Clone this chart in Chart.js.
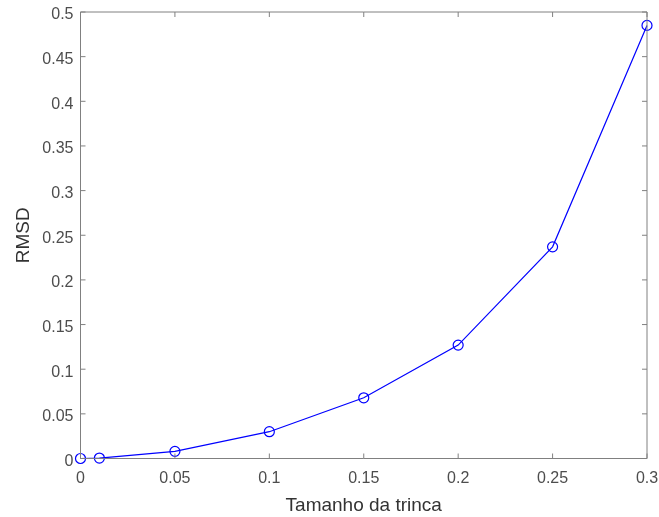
<!DOCTYPE html>
<html>
<head>
<meta charset="utf-8">
<script src="https://cdn.jsdelivr.net/npm/chart.js@4/dist/chart.umd.min.js"></script>
<style>
    html, body { margin: 0; padding: 0; background: #ffffff; }
    #wrap { width: 659px; height: 517px; }
</style>
</head>
<body>
<div id="wrap"><canvas id="myChart"></canvas></div>
<script>
"use strict";

// data
const crackSizes = [0, 0.01, 0.05, 0.1, 0.15, 0.2, 0.25, 0.3];
const rmsdValues = [0.0, 0.0005, 0.008, 0.030, 0.068, 0.127, 0.237, 0.485];
const xTicks = [0, 0.05, 0.1, 0.15, 0.2, 0.25, 0.3];
const yTicks = [0, 0.05, 0.1, 0.15, 0.2, 0.25, 0.3, 0.35, 0.4, 0.45, 0.5];

const axisColor = '#808080';
const labelColor = '#4d4d4d';
const fontFamily = 'Liberation Sans, Arial, sans-serif';

function fmt(v) {
    return String(+Number(v).toFixed(2));
}

// matlab style box with inward ticks on all four sides
const boxPlugin = {
    id: 'matlabBox',
    afterDatasetsDraw(chart) {
        const ctx = chart.ctx;
        const a = chart.chartArea;
        const xs = chart.scales.x;
        const ys = chart.scales.y;
        const len = 5;
        ctx.save();
        ctx.strokeStyle = axisColor;
        ctx.lineWidth = 1;
        ctx.beginPath();
        ctx.rect(a.left, a.top, a.right - a.left, a.bottom - a.top);
        xTicks.forEach(function (t) {
            const px = xs.getPixelForValue(t);
            ctx.moveTo(px, a.bottom);
            ctx.lineTo(px, a.bottom - len);
            ctx.moveTo(px, a.top);
            ctx.lineTo(px, a.top + len);
        });
        yTicks.forEach(function (t) {
            const py = ys.getPixelForValue(t);
            ctx.moveTo(a.left, py);
            ctx.lineTo(a.left + len, py);
            ctx.moveTo(a.right, py);
            ctx.lineTo(a.right - len, py);
        });
        ctx.stroke();
        ctx.restore();
    }
};

const ctx = document.getElementById('myChart');
const myChart = new Chart(ctx, {
    type: 'line',
    data: {
        datasets: [
            {
                data: crackSizes.map(function (x, i) { return { x: x, y: rmsdValues[i] }; }),
                borderColor: '#0000ff',
                borderWidth: 1.2,
                pointStyle: 'circle',
                pointRadius: 5,
                pointBorderWidth: 1.2,
                pointBorderColor: '#0000ff',
                pointBackgroundColor: 'rgba(0,0,0,0)',
                tension: 0,
                clip: false
            }
        ]
    },
    options: {
        responsive: true,
        maintainAspectRatio: false,
        animation: false,
        layout: {
            padding: { left: 0, right: 12, top: 12, bottom: 0 }
        },
        plugins: {
            legend: { display: false },
            tooltip: { enabled: false }
        },
        scales: {
            x: {
                type: 'linear',
                min: 0,
                max: 0.3,
                afterBuildTicks: function (scale) {
                    scale.ticks = xTicks.map(function (v) { return { value: v }; });
                },
                afterFit: function (scale) {
                    scale.height = 58.5;
                    scale.paddingLeft = 0;
                    scale.paddingRight = 0;
                },
                grid: { display: false, drawTicks: false },
                border: { display: false },
                ticks: {
                    padding: 10,
                    color: labelColor,
                    font: { family: fontFamily, size: 16 },
                    callback: fmt,
                    maxRotation: 0
                },
                title: {
                    display: true,
                    text: 'Tamanho da trinca',
                    color: '#333333',
                    font: { family: fontFamily, size: 19 },
                    padding: { top: 6.4, bottom: 0 }
                }
            },
            y: {
                type: 'linear',
                min: 0,
                max: 0.5,
                afterBuildTicks: function (scale) {
                    scale.ticks = yTicks.map(function (v) { return { value: v }; });
                },
                afterFit: function (scale) {
                    scale.width = 80.5;
                    scale.paddingTop = 0;
                    scale.paddingBottom = 0;
                },
                grid: { display: false, drawTicks: false },
                border: { display: false },
                ticks: {
                    padding: 7,
                    labelOffset: 3,
                    color: labelColor,
                    font: { family: fontFamily, size: 16 },
                    callback: fmt
                },
                title: {
                    display: true,
                    text: 'RMSD',
                    color: '#333333',
                    font: { family: fontFamily, size: 19 },
                    padding: { top: 12.6, bottom: 0 }
                }
            }
        }
    },
    plugins: [boxPlugin]
});
</script>
</body>
</html>
